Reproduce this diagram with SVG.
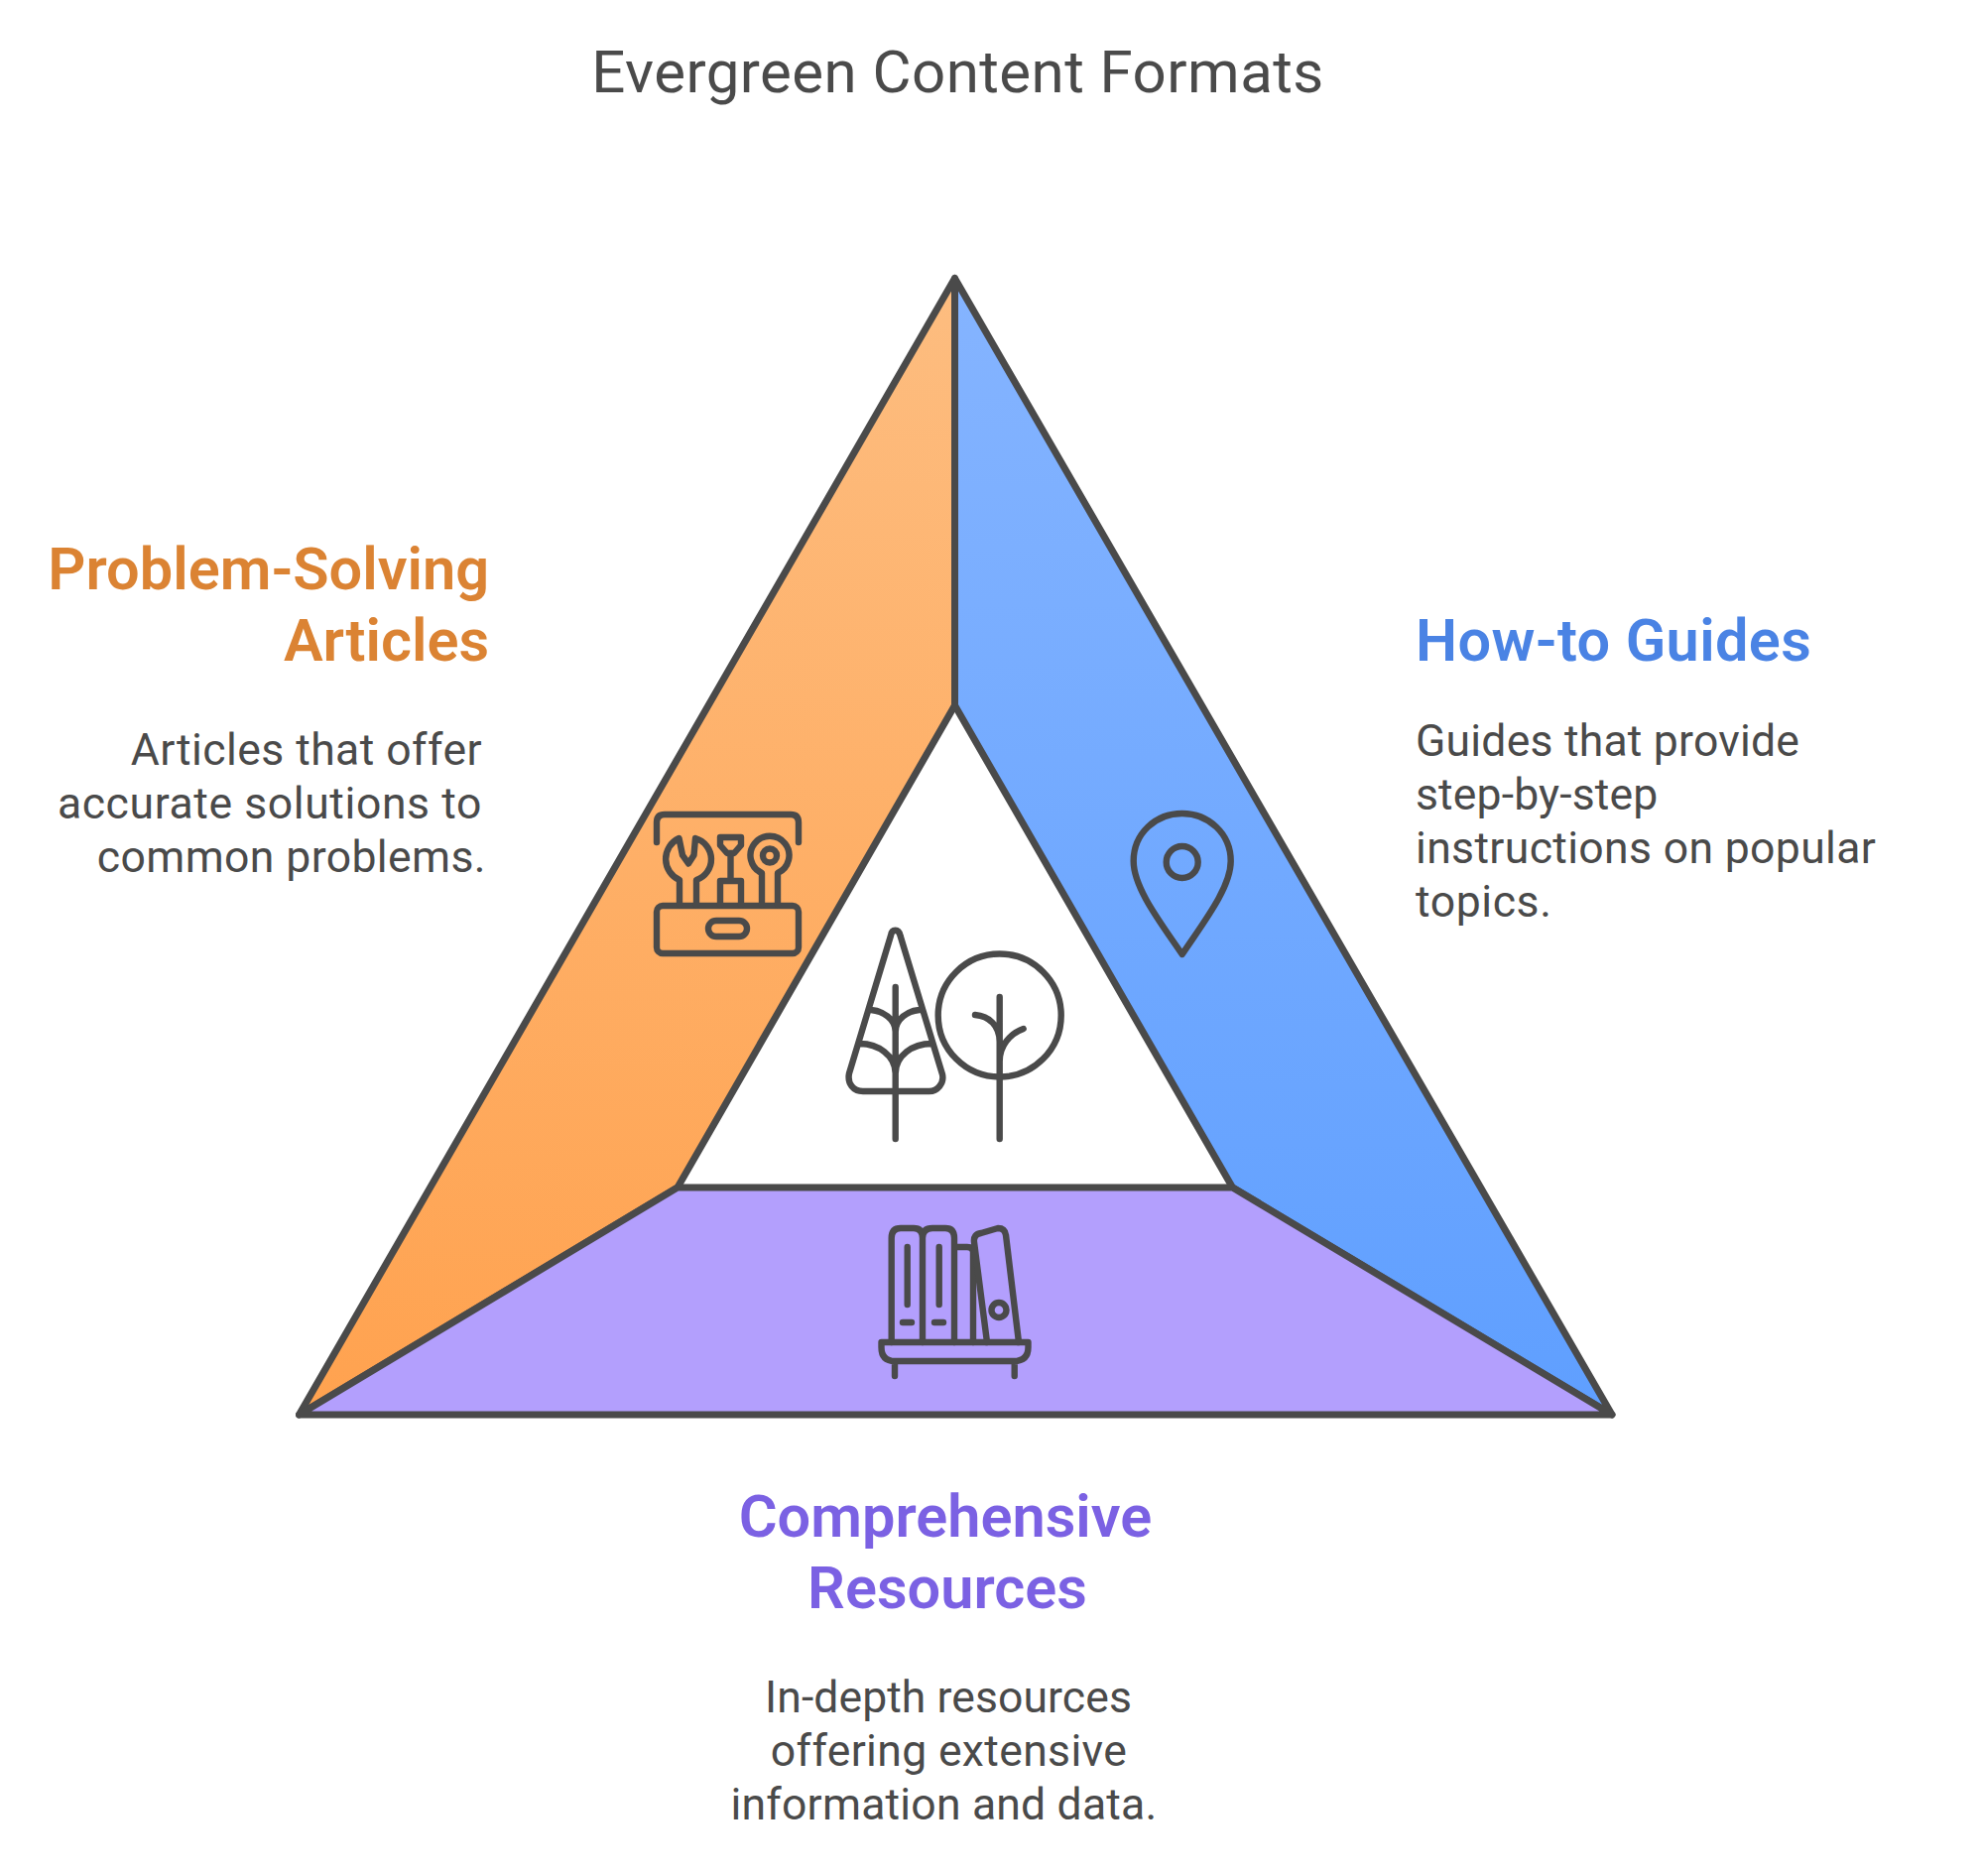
<svg xmlns="http://www.w3.org/2000/svg" width="1997" height="1891" viewBox="0 0 1997 1891">
<defs>
<linearGradient id="go" x1="0" y1="279" x2="0" y2="1425" gradientUnits="userSpaceOnUse"><stop offset="0" stop-color="#fdbd80"/><stop offset="1" stop-color="#ffa24f"/></linearGradient>
<linearGradient id="gb" x1="0" y1="279" x2="0" y2="1425" gradientUnits="userSpaceOnUse"><stop offset="0" stop-color="#85b4ff"/><stop offset="1" stop-color="#5f9fff"/></linearGradient>
</defs>
<style>
text{font-family:Roboto,"Liberation Sans",sans-serif}
.t{font-size:60px;fill:#4a4a4a;letter-spacing:.45px}
.h{font-size:59.500px;font-weight:600}
.d{font-size:44.500px;font-weight:400;fill:#4a4a4a}
.s{stroke:#4a4a4a;stroke-width:7;stroke-linejoin:round;stroke-linecap:round}
.i{fill:none;stroke:#4a4a4a;stroke-width:6.400;stroke-linejoin:round;stroke-linecap:round}
.e{text-anchor:end}.m{text-anchor:middle}
</style>
<rect width="1997" height="1891" fill="#fff"/>
<text id="title" class="t m" x="965.500" y="92.500">Evergreen Content Formats</text>
<g id="connectors"/>
<g id="problem-solving">
<path class="s" fill="url(#go)" d="M962.500 280.500V711L683 1197L301.500 1426Z"/>
<g class="i"><path d="M662 849V829Q662 821 670 821H797Q805 821 805 829V849"/><rect x="662" y="913" width="143" height="48" rx="6"/><rect x="714" y="928" width="39" height="16" rx="8"/><path d="M685 912V887A23 23 0 0 1 684.500 845L688 862L694 870.500L699.500 862L701 845A22 22 0 0 1 702 887V912"/><path d="M726 844H747V852L740 860H733L726 852ZM736.500 860V888M726 912V888H747V912"/><path d="M768 912V880A19.500 19.500 0 1 1 784 880V912"/><circle cx="776" cy="862.500" r="7"/></g>
<text class="h e" x="493" y="593.500" fill="#db8333">Problem-Solving</text>
<text class="h e" x="493" y="665.500" fill="#db8333">Articles</text>
<text class="d e" x="486" y="770.500" letter-spacing=".45">Articles that offer</text>
<text class="d e" x="486" y="824.500" letter-spacing=".6">accurate solutions to</text>
<text class="d e" x="490" y="878.500" letter-spacing=".4">common problems.</text>
</g>
<g id="how-to">
<path class="s" fill="url(#gb)" d="M962.500 280.500V711L1242.500 1197L1625 1426Z"/>
<g class="i"><path d="M1191.700 962C1170 930 1142.700 895 1142.700 868C1142.700 840 1165 820 1191.700 820C1218 820 1240.700 840 1240.700 868C1240.700 895 1213 930 1191.700 962Z"/><circle cx="1191.700" cy="869" r="16"/></g>
<text class="h" x="1427" y="665.500" fill="#4a83e4" letter-spacing=".35">How-to Guides</text>
<text class="d" x="1427" y="761.500" letter-spacing=".22">Guides that provide</text>
<text class="d" x="1427" y="815.500" letter-spacing=".15">step-by-step</text>
<text class="d" x="1427" y="869.500" letter-spacing=".35">instructions on popular</text>
<text class="d" x="1427" y="923.500" letter-spacing=".6">topics.</text>
</g>
<g id="comprehensive">
<path class="s" fill="#b39ffd" d="M301.500 1426L683 1197H1242.500L1625 1426Z"/>
<g class="i"><path d="M898.700 1353V1248Q898.700 1238 908 1238H921Q930 1238 930 1248V1353M930 1248Q930 1238 940 1238H953Q962 1238 962 1248V1353M962 1257H975Q981 1257 981 1262V1353M981 1288V1353"/><path d="M995 1353L982 1252Q981 1244 989 1243L1006 1238Q1013 1238 1014 1245L1027 1353"/><path d="M914.700 1257V1315M910 1333H919M946.700 1257V1315M942 1333H951"/><circle cx="1007" cy="1320.500" r="7.500"/><path d="M888.500 1353H1036.500V1358Q1036.500 1372 1022 1372H902Q888.500 1372 888.500 1358ZM902 1372V1387M1022.700 1372V1387"/></g>
<text class="h m" x="953" y="1548.500" fill="#7b61e3">Comprehensive</text>
<text class="h m" x="955" y="1620.500" fill="#7b61e3">Resources</text>
<text class="d m" x="956" y="1725.500" letter-spacing=".08">In-depth resources</text>
<text class="d m" x="956.500" y="1779.500" letter-spacing=".35">offering extensive</text>
<text class="d m" x="951.500" y="1833.500" letter-spacing=".2">information and data.</text>
</g>
<g id="center" class="i"><path d="M898 943C899 936 906 936 907.500 943L950 1083C952 1092 945 1100 936.700 1100H870C860 1100 854 1092 856 1082ZM902.700 995V1148M878 1018C890 1019 902.700 1027 902.700 1040C902.700 1027 915 1019 926.700 1018M867 1052C885 1052 902.700 1064 902.700 1082C902.700 1064 920 1052 939 1052"/><circle cx="1007.700" cy="1023.500" r="62"/><path d="M1007.700 1005V1148M983 1023C997 1024 1007.700 1034 1007.700 1050M1031.700 1037C1018 1042 1007.700 1054 1007.700 1070"/></g>
</svg>
